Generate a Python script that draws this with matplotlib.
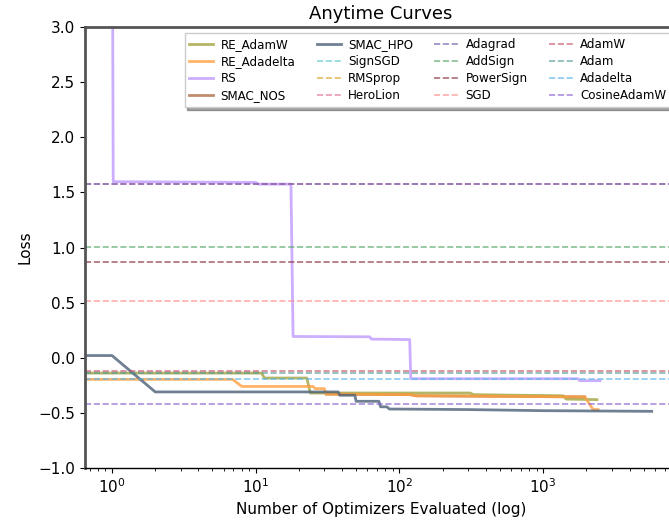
import numpy as np
import matplotlib
matplotlib.use("Agg")
import matplotlib.pyplot as plt

# incumbent curves: number of evaluated optimizers vs. best loss so far
re_adamw_x = [0.65, 11, 11.5, 22.7, 24, 310, 330, 1380, 1450, 2370]
re_adamw_y = [-0.139, -0.139, -0.184, -0.184, -0.32, -0.32, -0.335, -0.345, -0.375, -0.38]

re_adadelta_x = [0.65, 6.9, 8, 25, 26, 30, 31, 120, 130, 1950, 2230, 2410]
re_adadelta_y = [-0.196, -0.196, -0.26, -0.26, -0.28, -0.28, -0.33, -0.335, -0.345, -0.355, -0.47, -0.47]

rs_x = [1, 1.02, 10, 10.5, 17.6, 18.2, 62, 64, 118, 120, 1750, 1800, 2490]
rs_y = [5.0, 1.597, 1.59, 1.575, 1.575, 0.193, 0.19, 0.169, 0.165, -0.19, -0.19, -0.208, -0.208]

smac_nos_x = [31, 120, 130, 1950]
smac_nos_y = [-0.33, -0.335, -0.345, -0.355]

smac_hpo_x = [0.65, 1, 2, 37.5, 38.5, 49, 50, 72, 74, 82, 85, 300, 1000, 5700]
smac_hpo_y = [0.02, 0.02, -0.31, -0.31, -0.34, -0.34, -0.395, -0.395, -0.445, -0.445, -0.465, -0.47, -0.48, -0.486]

curve_names = ["SMAC_NOS", "RE_AdamW", "RE_Adadelta", "RS", "SMAC_HPO"]
curve_colors = ["#b07048", "#a3a340", "#ffa040", "#c09aff", "#4c6178"]

# baseline optimizers (final loss, drawn as horizontal lines)
baseline_names = ["SignSGD", "RMSprop", "HeroLion", "Adagrad", "AddSign", "PowerSign",
                  "SGD", "AdamW", "Adam", "Adadelta", "CosineAdamW"]
baseline_loss = [3.4, 3.6, 1.576, 1.576, 1.005, 0.87, 0.516, -0.118, -0.139, -0.196, -0.417]
baseline_colors = ["#5cc8c8", "#d4a020", "#e07090", "#6a5ab0", "#55a868", "#8c2d3a",
                   "#ff8a8a", "#c44e6a", "#4e9a96", "#56b4e9", "#8a5fd0"]

plt.rcParams["font.family"] = ["DejaVu Sans"]
plt.rcParams["font.size"] = 11

fig = plt.figure(figsize=(6.69, 5.23), dpi=100)
ax = fig.add_axes([85 / 669, 55 / 523, 592 / 669, 441 / 523])

xs = [smac_nos_x, re_adamw_x, re_adadelta_x, rs_x, smac_hpo_x]
ys = [smac_nos_y, re_adamw_y, re_adadelta_y, rs_y, smac_hpo_y]
handles = {}
for name, x, y, c in zip(curve_names, xs, ys, curve_colors):
    h, = ax.plot(x, y, color=c, lw=2, alpha=0.8, label=name)
    handles[name] = h

for name, val, c in zip(baseline_names, baseline_loss, baseline_colors):
    h = ax.axhline(val, color=c, ls="--", lw=1.2, alpha=0.7, label=name)
    handles[name] = h

ax.set_xscale("log")
ax.set_xlim(0.649, 8550)
ax.set_ylim(-1.0, 3.0)
ax.set_yticks(np.arange(-1.0, 3.01, 0.5))

ax.set_title("Anytime Curves", fontsize=13)
ax.set_xlabel("Number of Optimizers Evaluated (log)")
ax.set_ylabel("Loss")

for s in ["left", "top"]:
    ax.spines[s].set_color("#555555")
    ax.spines[s].set_linewidth(2)
ax.spines["right"].set_visible(False)
ax.spines["bottom"].set_linewidth(1)

# legend order, column-wise (4 rows)
order = ["RE_AdamW", "RE_Adadelta", "RS", "SMAC_NOS",
         "SMAC_HPO", "SignSGD", "RMSprop", "HeroLion",
         "Adagrad", "AddSign", "PowerSign", "SGD",
         "AdamW", "Adam", "Adadelta", "CosineAdamW"]
leg = ax.legend([handles[n] for n in order], order, loc="upper right", ncol=4,
                fontsize=8.6, shadow=True, fancybox=False, framealpha=1,
                columnspacing=1.8, labelspacing=0.35, handletextpad=0.6)
leg.get_frame().set_edgecolor("0.8")

fig.savefig("out.png", dpi=100)
